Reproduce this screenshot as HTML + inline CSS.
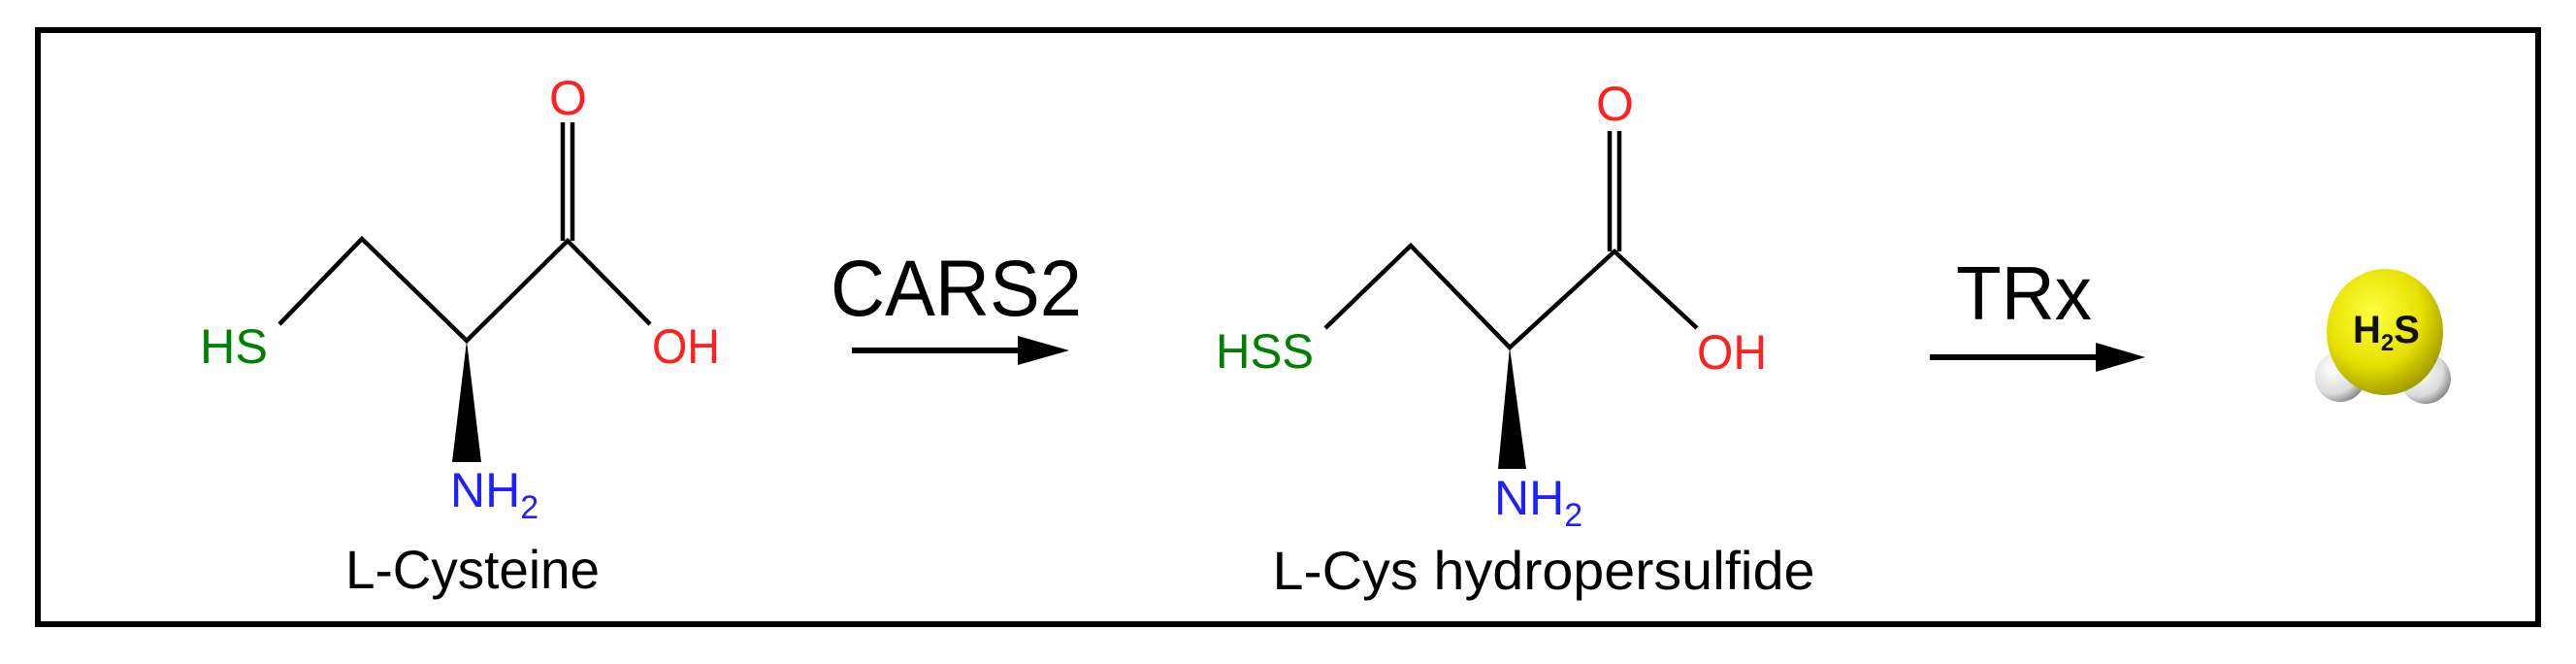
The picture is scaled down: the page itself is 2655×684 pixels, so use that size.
<!DOCTYPE html>
<html><head><meta charset="utf-8"><style>
html,body{margin:0;padding:0;background:#fff}
svg{display:block}
text{font-family:"Liberation Sans",sans-serif}
</style></head><body>
<svg width="2655" height="684" viewBox="0 0 2655 684" xmlns="http://www.w3.org/2000/svg">
<defs>
<radialGradient id="y" cx="0.4" cy="0.35" r="0.7">
<stop offset="0" stop-color="#ffff40"/><stop offset="0.6" stop-color="#e6e000"/><stop offset="1" stop-color="#9a9400"/>
</radialGradient>
<radialGradient id="w" cx="0.35" cy="0.35" r="0.7">
<stop offset="0" stop-color="#ffffff"/><stop offset="0.7" stop-color="#dcdcdc"/><stop offset="1" stop-color="#8a8a8a"/>
</radialGradient>
</defs>
<rect x="39" y="31" width="2577" height="612" fill="none" stroke="#000" stroke-width="6"/>

<!-- L-Cysteine -->
<g stroke="#000" stroke-width="4.5" fill="none">
<polyline points="288,334 373,246 481,351 585,248 670,334"/>
<line x1="580" y1="248" x2="580" y2="126"/><line x1="590" y1="248" x2="590" y2="126"/>
</g>
<polygon points="481,351 466,476 496,476" fill="#000"/>
<text x="206" y="374" font-size="50" fill="#008000" textLength="70" lengthAdjust="spacingAndGlyphs">HS</text>
<text x="566" y="118" font-size="50" fill="#ff2020">O</text>
<text x="672" y="374" font-size="50" fill="#ff2020" textLength="70" lengthAdjust="spacingAndGlyphs">OH</text>
<text x="464" y="522" font-size="50" fill="#2020ff">NH<tspan font-size="34" dy="12">2</tspan></text>
<text x="487" y="606" font-size="56" text-anchor="middle" textLength="262" lengthAdjust="spacingAndGlyphs">L-Cysteine</text>

<text x="856" y="325" font-size="82" textLength="259" lengthAdjust="spacingAndGlyphs">CARS2</text>
<line x1="878" y1="361" x2="1055" y2="361" stroke="#000" stroke-width="6"/>
<polygon points="1102,361 1049,346 1049,376" fill="#000"/>

<!-- Hydropersulfide -->
<g stroke="#000" stroke-width="4.5" fill="none">
<polyline points="1366,338 1454,253 1556,358 1664,259 1749,338"/>
<line x1="1659" y1="259" x2="1659" y2="135"/><line x1="1669" y1="259" x2="1669" y2="135"/>
</g>
<polygon points="1556,358 1544,483 1573,483" fill="#000"/>
<text x="1253" y="379" font-size="50" fill="#008000" textLength="101" lengthAdjust="spacingAndGlyphs">HSS</text>
<text x="1645" y="124" font-size="50" fill="#ff2020">O</text>
<text x="1749" y="380" font-size="50" fill="#ff2020" textLength="72" lengthAdjust="spacingAndGlyphs">OH</text>
<text x="1540" y="530" font-size="50" fill="#2020ff">NH<tspan font-size="34" dy="12">2</tspan></text>
<text x="1591" y="607" font-size="56" text-anchor="middle" textLength="559" lengthAdjust="spacingAndGlyphs">L-Cys hydropersulfide</text>

<text x="2016" y="329" font-size="78" textLength="140" lengthAdjust="spacingAndGlyphs">TRx</text>
<line x1="1989" y1="368" x2="2165" y2="368" stroke="#000" stroke-width="6"/>
<polygon points="2211,368 2160,353 2160,383" fill="#000"/>

<!-- H2S -->
<circle cx="2412" cy="388" r="26" fill="url(#w)"/>
<circle cx="2500" cy="390" r="26" fill="url(#w)"/>
<ellipse cx="2458" cy="342" rx="60" ry="65" fill="url(#y)"/>
<text x="2425" y="353" font-size="40" font-weight="bold" fill="#111">H<tspan font-size="24" dy="8">2</tspan><tspan dy="-8">S</tspan></text>
</svg>
</body></html>
